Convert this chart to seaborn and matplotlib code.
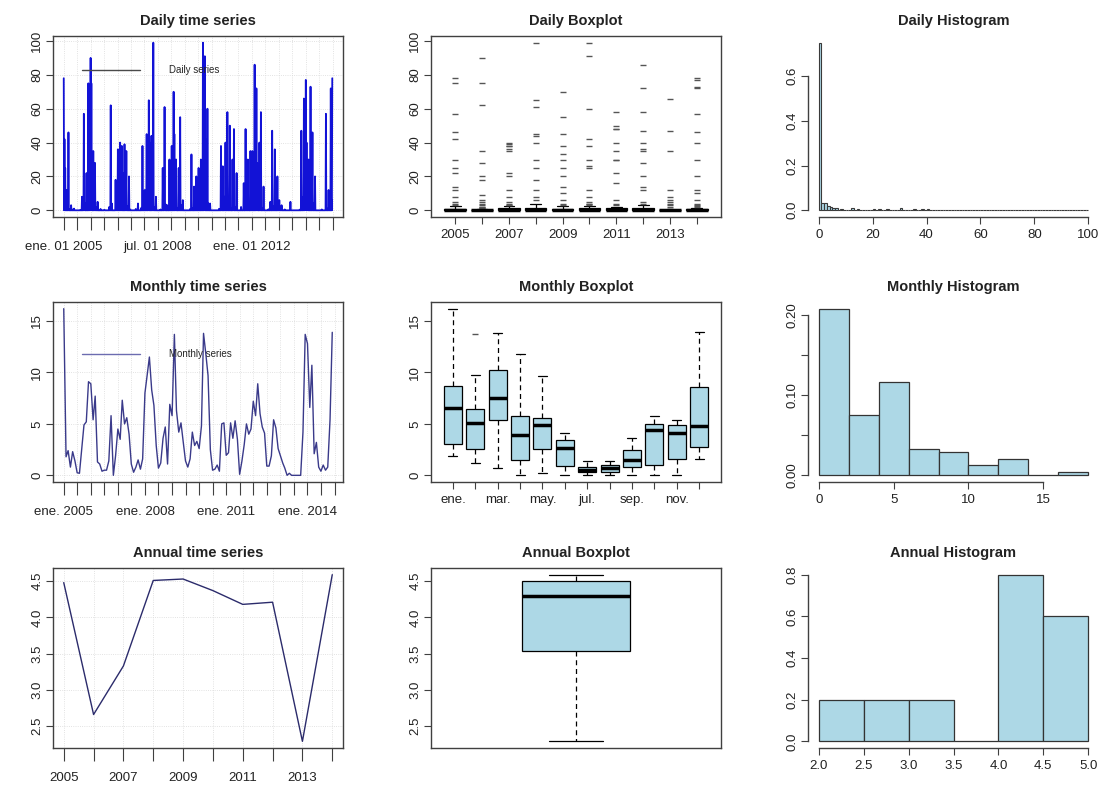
import numpy as np
import pandas as pd
import matplotlib
matplotlib.use("Agg")
import matplotlib.pyplot as plt
import matplotlib.dates as mdates
from matplotlib.lines import Line2D
import seaborn as sns

# ---------------- data ----------------
years = [2005, 2006, 2007, 2008, 2009, 2010, 2011, 2012, 2013, 2014]

# daily series, sampled six times a month (days 1, 6, 11, 16, 21, 26), Jan..Dec
daily_2005 = [78, 0, 42, 1.5, 25, 0,  0, 12, 0, 0, 2, 0,  0, 46, 0, 0.5, 0, 0,
              0, 0, 3, 0, 0, 0,  0, 0.5, 0, 0, 1, 0,  0, 0, 0, 0, 0, 0,
              0, 0, 0, 0, 0, 0,  0, 0, 0.2, 0, 0, 0,  0, 8, 0, 0, 1.2, 0,
              57, 0, 0.4, 4, 0, 0,  0, 22, 0, 2.5, 0, 0,  75, 0, 30, 0, 5, 14]
daily_2006 = [90, 0, 75, 3, 20, 0,  0, 35, 0, 1.5, 0, 6,  28, 0, 0.6, 0, 2, 0,
              0, 5, 0, 0, 0, 0,  0, 0, 0, 0.8, 0, 0,  0, 0, 0, 0, 0, 0,
              0, 0.3, 0, 0, 0, 0,  0, 0, 0, 0, 0, 0,  0, 0, 2, 0, 0, 0,
              62, 0, 0, 4, 0, 0,  0, 0, 0, 0, 0, 0,  0, 18, 0, 1.2, 0, 9]
daily_2007 = [0, 36, 0, 2, 0, 8,  0, 40, 0, 1.5, 12, 0,  38, 0, 22, 0, 3, 0,
              0, 39, 0, 5, 0, 1,  35, 0, 0, 2.5, 0, 0,  0, 20, 0, 0, 0.5, 0,
              0, 0, 0, 0, 0, 0,  0, 0, 0, 0, 0, 0,  0, 0.8, 0, 0, 0, 0,
              0, 4, 0, 0, 0, 0,  0, 0, 0, 0, 1.5, 0,  0, 38, 0, 3, 0, 0]
daily_2008 = [0, 12, 0, 1, 0, 0,  45, 0, 0, 3, 0, 18,  65, 0, 40, 0, 2, 0,
              0, 44, 0, 6, 0, 1.5,  99, 0, 0, 2, 0, 0,  0, 8, 0, 0, 0, 0,
              0, 0, 0, 0, 0, 0,  0, 0.5, 0, 0, 0, 0,  0, 25, 0, 0, 1, 0,
              61, 0, 0, 3.5, 0, 0,  0, 3, 0, 0, 0, 0,  0, 30, 0, 0, 2, 0]
daily_2009 = [0, 38, 0, 2, 0, 0,  70, 0, 45, 0, 4, 10,  0, 30, 0, 1.5, 0, 0,
              0, 0, 25, 0, 2, 0,  55, 0, 0, 0, 3, 0,  0, 6, 0, 0, 0, 0,
              0, 0, 0, 0, 0, 0,  0, 0, 0, 0, 0, 0,  0, 0, 0.7, 0, 0, 0,
              33, 0, 0, 1.2, 0, 0,  0, 14, 0, 0, 0, 2.5,  0, 20, 0, 0, 1, 0]
daily_2010 = [0, 25, 0, 0, 2, 0,  0, 30, 0, 1.5, 0, 5,  0, 99, 0, 12, 0, 3,
              91, 0, 42, 0, 2, 0,  0, 60, 0, 0, 4, 0,  0, 0, 4, 0, 0, 0,
              0, 0, 0, 0, 0, 0,  0, 0, 0, 0, 0, 0,  0, 0, 0, 0, 0, 0,
              0, 0, 0.9, 0, 0, 0,  0, 38, 0, 1, 0, 0,  26, 0, 0, 2.5, 0, 8]
daily_2011 = [0, 40, 0, 2, 0, 0,  58, 0, 0, 0, 3, 0,  0, 50, 0, 1.5, 0, 0,
              0, 0, 30, 0, 0, 1,  48, 0, 0, 0, 2, 0,  0, 22, 0, 0, 0, 0,
              0, 0, 0, 0, 0, 0,  0, 2, 0, 0, 0, 0,  0, 0, 16, 0, 0, 0,
              0, 48, 0, 0, 4, 0,  0, 30, 0, 1.5, 0, 0,  0, 0, 35, 0, 0, 6]
daily_2012 = [0, 35, 0, 0, 2, 0,  0, 86, 0, 4, 0, 12,  72, 0, 28, 0, 1.5, 0,
              0, 0, 40, 0, 3, 0,  58, 0, 0, 0, 1, 0,  0, 14, 0, 0, 0, 0,
              0, 0, 0, 0, 0, 0,  0, 0, 0.6, 0, 0, 0,  0, 5, 0, 0, 0, 0,
              47, 0, 0, 2.5, 0, 0,  0, 36, 0, 0, 1.2, 0,  0, 0, 20, 0, 0, 3]
daily_2013 = [0, 6, 0, 0, 1, 0,  0, 3, 0, 0, 0, 0,  0, 0, 0, 0, 0.5, 0,
              0, 0, 0, 0, 0, 0,  0, 0, 0, 0, 0, 0,  0, 5, 0, 0, 0, 0,
              0, 0, 0, 0, 0, 0,  0, 0, 0, 0, 0, 0,  0, 0, 0, 0, 0, 0,
              0, 0, 0.4, 0, 0, 0,  47, 0, 0, 2, 0, 8,  0, 66, 35, 0, 4, 12]
daily_2014 = [77, 0, 40, 0, 3, 10,  0, 30, 0, 1.5, 0, 0,  0, 73, 0, 2, 0, 0,
              46, 0, 0, 0, 4, 0,  0, 20, 0, 0, 0, 0,  0, 0, 0, 0, 0, 0,
              0, 0, 0, 0, 0, 0,  0, 0.5, 0, 0, 0, 0,  0, 0, 0, 0, 0, 0,
              57, 0, 0, 1, 0, 0,  0, 12, 0, 0, 2.5, 0,  0, 72, 0, 6, 0, 78]

# monthly series, Jan..Dec
monthly_2005 = [16.2, 1.8, 2.4, 0.8, 2.3, 1.4, 0.25, 0.2, 2.6, 4.9, 5.2, 9.1]
monthly_2006 = [8.9, 5.4, 7.7, 1.3, 1.1, 0.4, 0.5, 0.5, 1.4, 5.8, 0.0, 1.9]
monthly_2007 = [4.5, 3.5, 7.3, 5.0, 5.6, 4.0, 1.1, 0.3, 0.8, 1.5, 0.6, 1.6]
monthly_2008 = [8.0, 9.8, 11.5, 8.3, 6.8, 2.9, 0.7, 1.2, 3.6, 4.7, 1.1, 6.9]
monthly_2009 = [5.8, 13.7, 6.3, 4.2, 5.1, 3.2, 1.4, 0.8, 1.6, 4.2, 2.9, 3.3]
monthly_2010 = [2.6, 4.8, 13.8, 11.8, 9.7, 2.5, 0.5, 0.6, 1.0, 0.4, 5.0, 5.1]
monthly_2011 = [1.95, 2.2, 5.1, 3.6, 5.3, 3.5, 0.1, 1.4, 3.0, 5.0, 4.0, 4.5]
monthly_2012 = [7.2, 5.8, 8.9, 6.0, 4.7, 4.1, 0.9, 0.9, 1.9, 5.4, 4.6, 2.6]
monthly_2013 = [1.9, 1.2, 0.7, 0.0, 0.2, 0.0, 0.0, 0.0, 0.0, 0.0, 4.2, 13.7]
monthly_2014 = [12.8, 6.6, 10.7, 2.1, 3.2, 0.8, 0.4, 1.0, 0.5, 0.8, 5.4, 13.9]

annual_values = [4.48, 2.66, 3.33, 4.51, 4.53, 4.37, 4.18, 4.21, 2.29, 4.59]

month_names = ["ene.", "feb.", "mar.", "abr.", "may.", "jun.",
               "jul.", "ago.", "sep.", "oct.", "nov.", "dic."]
daily_tick_labels = {0: "ene. 01 2005", 7: "jul. 01 2008", 14: "ene. 01 2012"}
monthly_tick_labels = {0: "ene. 2005", 6: "ene. 2008", 12: "ene. 2011", 18: "ene. 2014"}
titles = ["Daily time series", "Daily Boxplot", "Daily Histogram",
          "Monthly time series", "Monthly Boxplot", "Monthly Histogram",
          "Annual time series", "Annual Boxplot", "Annual Histogram"]

# ---------------- assemble frames ----------------
daily_lists = [daily_2005, daily_2006, daily_2007, daily_2008, daily_2009,
               daily_2010, daily_2011, daily_2012, daily_2013, daily_2014]
monthly_lists = [monthly_2005, monthly_2006, monthly_2007, monthly_2008, monthly_2009,
                 monthly_2010, monthly_2011, monthly_2012, monthly_2013, monthly_2014]

month_starts = pd.date_range("2005-01-01", periods=120, freq="MS")
daily_dates = [m + pd.Timedelta(days=d) for m in month_starts for d in (0, 5, 10, 15, 20, 25)]
daily_df = pd.DataFrame({
    "date": daily_dates,
    "year": [y for y, lst in zip(years, daily_lists) for _ in lst],
    "value": [v for lst in daily_lists for v in lst],
})
monthly_df = pd.DataFrame({
    "date": month_starts,
    "month": [month_names[i % 12] for i in range(120)],
    "value": [v for lst in monthly_lists for v in lst],
})
annual_df = pd.DataFrame({"year": years, "value": annual_values})

# ---------------- style ----------------
sns.set_style("ticks")
plt.rcParams["font.family"] = ["Liberation Sans", "DejaVu Sans"]
plt.rcParams["axes.linewidth"] = 1.0

W, H = 1104, 796
fig = plt.figure(figsize=(W / 100, H / 100), dpi=100)

COLS = [(53, 343), (431, 721), (808, 1099)]
ROWS = [(36, 217), (302, 482), (568, 748)]
TICK_FS = 9.5
TITLE_FS = 10.5
FRAME = "#404040"
LIGHT = "#ADD8E6"


def rect(l, t, r, b):
    return [l / W, 1 - b / H, (r - l) / W, (b - t) / H]


def rpad(lo, hi, f=0.04):
    d = (hi - lo) * f
    return lo - d, hi + d


def make_ax(i, j):
    (l, r), (t, b) = COLS[j], ROWS[i]
    ax = fig.add_axes(rect(l, t, r, b))
    ax.set_title(titles[i * 3 + j], fontsize=TITLE_FS, fontweight="bold",
                 color="#222222", pad=8)
    return ax


def frame_style(ax, xlen=5):
    for s in ax.spines.values():
        s.set_visible(True)
        s.set_color(FRAME)
        s.set_linewidth(1.0)
    ax.tick_params(axis="x", direction="out", length=xlen, width=0.8, color=FRAME,
                   labelsize=TICK_FS, labelcolor="#222222")
    ax.tick_params(axis="y", direction="out", length=5, width=0.8, color=FRAME,
                   labelsize=TICK_FS, labelcolor="#222222", labelrotation=90, pad=2)
    ax.set_xlabel("")
    ax.set_ylabel("")


def fix_ylabels(ax):
    for t in ax.get_yticklabels():
        t.set_va("center")


def ts_grid(ax):
    ax.grid(True, color="#D9D9D9", lw=0.6, ls=":")
    ax.set_axisbelow(True)


def hist_style(ax, xb, yb):
    ax.spines["top"].set_visible(False)
    ax.spines["right"].set_visible(False)
    for s in ("left", "bottom"):
        ax.spines[s].set_color(FRAME)
        ax.spines[s].set_linewidth(1.0)
    ax.spines["left"].set_bounds(*yb)
    ax.spines["bottom"].set_bounds(*xb)
    ax.tick_params(axis="x", direction="out", length=5, width=0.8, color=FRAME,
                   labelsize=TICK_FS, labelcolor="#222222")
    ax.tick_params(axis="y", direction="out", length=5, width=0.8, color=FRAME,
                   labelsize=TICK_FS, labelcolor="#222222", labelrotation=90, pad=2)
    ax.set_xlabel("")
    ax.set_ylabel("")


BOX_KW = dict(saturation=1, linecolor="black", linewidth=0.9,
              whiskerprops=dict(linestyle=(0, (4, 3))),
              medianprops=dict(linewidth=2.5),
              flierprops=dict(marker="_", markersize=4, markeredgecolor="#555555"))

# ---------------- row 1: daily ----------------
ax = make_ax(0, 0)
sns.lineplot(data=daily_df, x="date", y="value", ax=ax, color="#1212D6",
             lw=1.3, estimator=None)
frame_style(ax, xlen=9)
ts_grid(ax)
x0, x1 = mdates.date2num(daily_df["date"].min()), mdates.date2num(daily_df["date"].max())
ax.set_xlim(rpad(x0, x1))
ax.set_ylim(rpad(0, daily_df["value"].max()))
tk = pd.date_range("2005-01-01", "2015-01-01", freq="6MS")
ax.set_xticks(mdates.date2num(tk))
ax.set_xticklabels([daily_tick_labels.get(k, "") for k in range(len(tk))])
ax.tick_params(axis="x", pad=8)
ax.set_yticks([0, 20, 40, 60, 80, 100])
fix_ylabels(ax)
ax.legend(handles=[Line2D([], [], color="#4a4a4a", lw=1)], labels=["Daily series"],
          loc="upper left", bbox_to_anchor=(0.085, 0.86), borderaxespad=0,
          frameon=False, fontsize=7, handlelength=6, handletextpad=3.0)

ax = make_ax(0, 1)
sns.boxplot(data=daily_df, x="year", y="value", ax=ax, color=LIGHT, width=0.8, **BOX_KW)
frame_style(ax)
ax.set_xlim(rpad(-0.5, 9.5))
ax.set_ylim(rpad(0, daily_df["value"].max()))
ax.set_xticks(range(10))
ax.set_xticklabels([str(y) if k % 2 == 0 else "" for k, y in enumerate(years)])
ax.set_yticks([0, 20, 40, 60, 80, 100])
fix_ylabels(ax)

ax = make_ax(0, 2)
sns.histplot(x=daily_df["value"], bins=np.arange(0, 101, 1), stat="density", ax=ax,
             color=LIGHT, edgecolor="#3a3a3a", linewidth=0.8, alpha=1)
ymax = max(p.get_height() for p in ax.patches)
ax.set_xlim(rpad(0, 100))
ax.set_ylim(rpad(0, ymax))
ax.set_xticks([0, 20, 40, 60, 80, 100])
ax.set_yticks([0, 0.2, 0.4, 0.6])
ax.set_yticklabels(["0.0", "0.2", "0.4", "0.6"])
hist_style(ax, (0, 100), (0, 0.6))
fix_ylabels(ax)

# ---------------- row 2: monthly ----------------
ax = make_ax(1, 0)
sns.lineplot(data=monthly_df, x="date", y="value", ax=ax, color="#3A3A8A",
             lw=1.0, estimator=None)
frame_style(ax, xlen=9)
ts_grid(ax)
x0, x1 = mdates.date2num(monthly_df["date"].min()), mdates.date2num(monthly_df["date"].max())
ax.set_xlim(rpad(x0, x1))
ax.set_ylim(rpad(0, monthly_df["value"].max()))
ax.set_xticks(mdates.date2num(tk))
ax.set_xticklabels([monthly_tick_labels.get(k, "") for k in range(len(tk))])
ax.tick_params(axis="x", pad=8)
ax.set_yticks([0, 5, 10, 15])
fix_ylabels(ax)
ax.legend(handles=[Line2D([], [], color="#6c6cb0", lw=1)], labels=["Monthly series"],
          loc="upper left", bbox_to_anchor=(0.085, 0.76), borderaxespad=0,
          frameon=False, fontsize=7, handlelength=6, handletextpad=3.0)

ax = make_ax(1, 1)
sns.boxplot(data=monthly_df, x="month", y="value", order=month_names, ax=ax,
            color=LIGHT, width=0.8, **BOX_KW)
frame_style(ax)
ax.set_xlim(rpad(-0.5, 11.5))
ax.set_ylim(rpad(0, monthly_df["value"].max()))
ax.set_xticks(range(12))
ax.set_xticklabels([m if k % 2 == 0 else "" for k, m in enumerate(month_names)])
ax.set_yticks([0, 5, 10, 15])
fix_ylabels(ax)

ax = make_ax(1, 2)
sns.histplot(x=monthly_df["value"], bins=np.arange(0, 19, 2), stat="density", ax=ax,
             color=LIGHT, edgecolor="#333333", linewidth=0.9, alpha=1)
ymax = max(p.get_height() for p in ax.patches)
ax.set_xlim(rpad(0, 18))
ax.set_ylim(rpad(0, ymax))
ax.set_xticks([0, 5, 10, 15])
ax.set_yticks([0, 0.05, 0.10, 0.15, 0.20])
ax.set_yticklabels(["0.00", "", "0.10", "", "0.20"])
hist_style(ax, (0, 15), (0, 0.20))
fix_ylabels(ax)

# ---------------- row 3: annual ----------------
ax = make_ax(2, 0)
sns.lineplot(data=annual_df, x="year", y="value", ax=ax, color="#2B2B6B", lw=1.0)
frame_style(ax, xlen=9)
ts_grid(ax)
ax.set_xlim(rpad(min(years), max(years)))
ax.set_ylim(rpad(min(annual_values), max(annual_values)))
ax.set_xticks(years)
ax.set_xticklabels([str(y) if k % 2 == 0 else "" for k, y in enumerate(years)])
ax.tick_params(axis="x", pad=8)
ax.set_yticks([2.5, 3.0, 3.5, 4.0, 4.5])
fix_ylabels(ax)

ax = make_ax(2, 1)
sns.boxplot(y=annual_df["value"], ax=ax, color=LIGHT, width=0.4, **BOX_KW)
frame_style(ax)
ax.set_xlim(rpad(-0.5, 0.5))
ax.set_ylim(rpad(min(annual_values), max(annual_values)))
ax.set_xticks([])
ax.set_yticks([2.5, 3.0, 3.5, 4.0, 4.5])
fix_ylabels(ax)

ax = make_ax(2, 2)
sns.histplot(x=annual_df["value"], bins=np.arange(2.0, 5.01, 0.5), stat="density", ax=ax,
             color=LIGHT, edgecolor="#333333", linewidth=0.9, alpha=1)
ymax = max(p.get_height() for p in ax.patches)
ax.set_xlim(rpad(2.0, 5.0))
ax.set_ylim(rpad(0, ymax))
ax.set_xticks([2.0, 2.5, 3.0, 3.5, 4.0, 4.5, 5.0])
ax.set_yticks([0, 0.2, 0.4, 0.6, 0.8])
ax.set_yticklabels(["0.0", "0.2", "0.4", "0.6", "0.8"])
hist_style(ax, (2.0, 5.0), (0, 0.8))
fix_ylabels(ax)

fig.savefig("out.png", dpi=100)
